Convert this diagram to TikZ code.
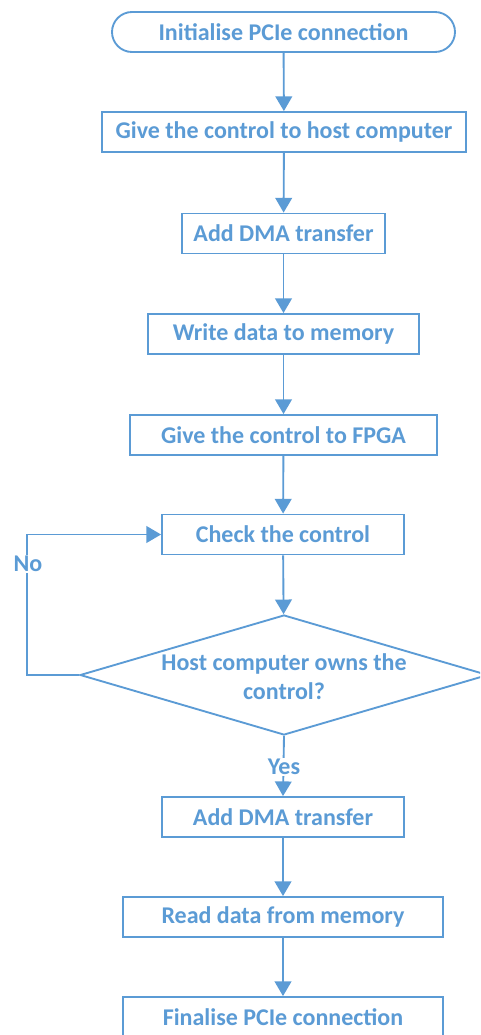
\documentclass[tikz,border=0pt]{standalone}
\usepackage{fontspec}
\setmainfont{Carlito}
\usetikzlibrary{arrows.meta,shapes.geometric}
\definecolor{fc}{HTML}{5B9BD5}
\tikzset{
  base/.style={draw=fc, line width=1.4pt, text=fc, font=\fontsize{18}{21}\selectfont\bfseries, inner sep=0pt, minimum height=30pt, fill=white},
  proc/.style={base, rectangle},
  term/.style={base, rectangle, rounded corners=15pt},
  dec/.style={draw=fc, line width=1.4pt, diamond, inner sep=0pt, minimum width=306pt, minimum height=90pt, fill=white},
  dectext/.style={text=fc, font=\fontsize{18}{21.75}\selectfont\bfseries, align=center},
  lab/.style={text=fc, font=\fontsize{18}{21}\selectfont\bfseries, fill=white, inner sep=1pt},
  flow/.style={draw=fc, line width=1.4pt, -{Triangle[length=11pt,width=12.5pt]}},
  line/.style={draw=fc, line width=1.4pt}
}
\begin{document}
\begin{tikzpicture}[x=0.75pt, y=-0.75pt]
\path[use as bounding box, clip] (0,0) rectangle (480,1035);
\node[term, minimum width=257.25pt] (t1) at (283.5,32) {Initialise PCIe connection};
\node[proc, minimum width=273pt] (b2) at (284,132) {Give the control to host computer};
\node[proc, minimum width=152.25pt] (b3) at (283.5,233.5) {Add DMA transfer};
\node[proc, minimum width=203.25pt] (b4) at (283.5,334) {Write data to memory};
\node[proc, minimum width=230.25pt] (b5) at (283.5,435) {Give the control to FPGA};
\node[proc, minimum width=181.5pt] (b6) at (283,534.5) {Check the control};
\node[dec] (d) at (284,675) {};
\node[dectext] (dt) at (284,677) {Host computer owns the\\control?};
\node[proc, minimum width=181.5pt] (b7) at (283,817) {Add DMA transfer};
\node[proc, minimum width=240pt] (b8) at (283,917) {Read data from memory};
\node[proc, minimum width=240pt] (b9) at (283,1017) {Finalise PCIe connection};
\coordinate (c1) at (27,675);
\coordinate (c2) at (27,534.5);
\draw[flow] (t1) -- (b2);
\draw[flow] (b2) -- (b3);
\draw[flow] (b3) -- (b4);
\draw[flow] (b4) -- (b5);
\draw[flow] (b5) -- (b6);
\draw[flow] (b6) -- (d);
\draw[flow] (d.west) -- (c1) -- (c2) -- (b6.west);
\draw[flow] (d.south) -- (b7.north);
\draw[flow] (b7) -- (b8);
\draw[flow] (b8) -- (b9);
\node[lab] (no) at (28,564) {No};
\node[lab] (yes) at (284,767) {Yes};
\end{tikzpicture}
\end{document}
